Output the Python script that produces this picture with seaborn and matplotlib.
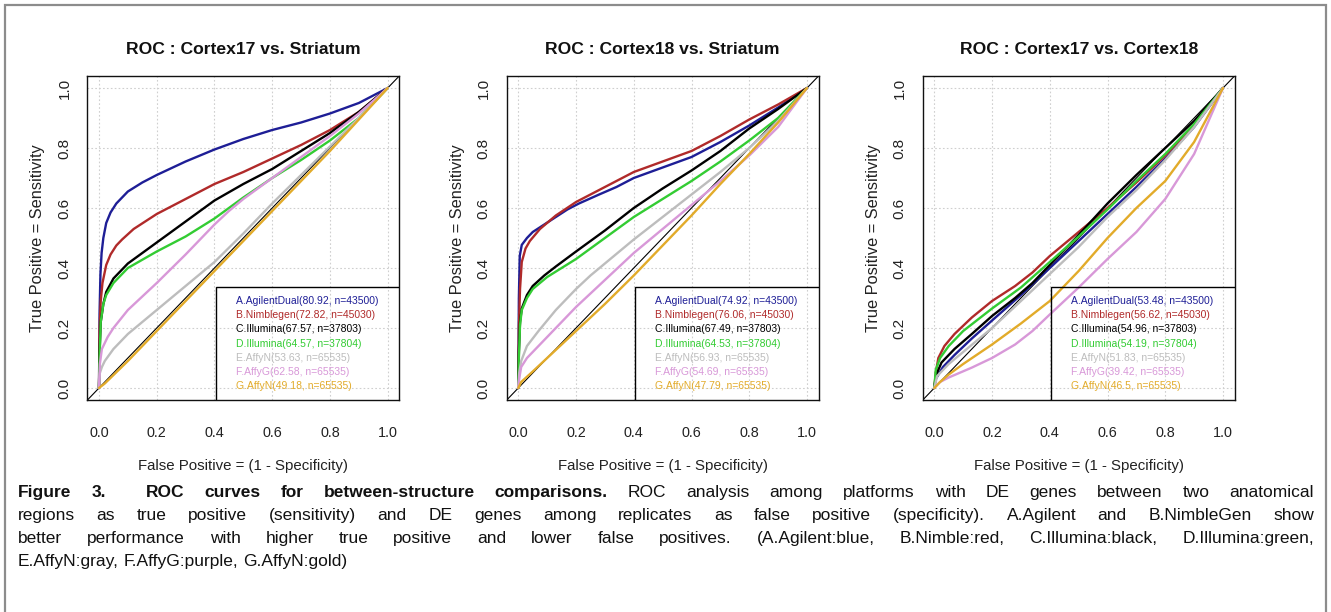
import numpy as np
import pandas as pd
import matplotlib
matplotlib.use("Agg")
import matplotlib.pyplot as plt
import seaborn as sns
from matplotlib.patches import Rectangle

# ---------------------------------------------------------------- data
platforms = ["A.AgilentDual", "B.Nimblegen", "C.Illumina", "D.Illumina",
             "E.AffyN", "F.AffyG", "G.AffyN"]
curve_colors = ["#1e1e96", "#b02a2a", "#000000", "#33cc33",
                "#bdbdbd", "#d898d8", "#e2ab2a"]
n_genes = [43500, 45030, 37803, 37804, 65535, 65535, 65535]

panel_titles = ["ROC : Cortex17 vs. Striatum",
                "ROC : Cortex18 vs. Striatum",
                "ROC : Cortex17 vs. Cortex18"]

auc_c17_str = ["80.92", "72.82", "67.57", "64.57", "53.63", "62.58", "49.18"]
auc_c18_str = ["74.92", "76.06", "67.49", "64.53", "56.93", "54.69", "47.79"]
auc_c17_c18 = ["53.48", "56.62", "54.96", "54.19", "51.83", "39.42", "46.5"]

# (false positive rate, true positive rate) per platform
roc_c17_str = {
    "A.AgilentDual": ([0, .002, .005, .009, .015, .025, .04, .06, .1, .15, .2, .3, .4, .5, .6, .7, .8, .9, 1],
                      [0, .25, .38, .45, .5, .55, .585, .615, .655, .685, .71, .755, .795, .83, .86, .885, .915, .95, 1]),
    "B.Nimblegen": ([0, .002, .006, .012, .025, .04, .06, .08, .12, .2, .3, .4, .5, .6, .7, .8, .9, 1],
                    [0, .2, .29, .35, .41, .445, .475, .495, .53, .58, .63, .68, .72, .765, .81, .86, .92, 1]),
    "C.Illumina": ([0, .002, .006, .015, .025, .05, .1, .15, .2, .3, .4, .5, .6, .7, .8, .9, 1],
                   [0, .12, .22, .28, .32, .365, .415, .45, .485, .555, .625, .68, .73, .79, .85, .92, 1]),
    "D.Illumina": ([0, .002, .006, .015, .025, .05, .1, .2, .3, .4, .5, .6, .7, .8, .9, 1],
                   [0, .1, .22, .28, .31, .35, .4, .455, .505, .565, .635, .7, .76, .825, .9, 1]),
    "E.AffyN": ([0, .003, .01, .02, .05, .1, .2, .3, .4, .5, .6, .7, .8, .9, 1],
                [0, .05, .07, .09, .13, .18, .26, .34, .42, .515, .615, .71, .805, .9, 1]),
    "F.AffyG": ([0, .003, .01, .03, .05, .1, .15, .2, .3, .4, .45, .5, .6, .7, .8, .9, 1],
                [0, .08, .13, .17, .2, .26, .305, .35, .445, .545, .59, .63, .7, .77, .84, .915, 1]),
    "G.AffyN": ([0, .02, .1, .2, .3, .4, .5, .6, .7, .8, .9, 1],
                [0, .015, .09, .19, .29, .39, .49, .59, .69, .79, .895, 1]),
}

roc_c18_str = {
    "A.AgilentDual": ([0, .002, .005, .012, .03, .05, .09, .13, .17, .21, .28, .34, .4, .5, .6, .7, .8, .9, 1],
                      [0, .3, .44, .477, .5, .52, .545, .57, .595, .615, .645, .67, .7, .735, .77, .82, .875, .935, 1]),
    "B.Nimblegen": ([0, .002, .006, .012, .025, .04, .075, .13, .2, .3, .4, .5, .6, .7, .8, .9, 1],
                    [0, .2, .33, .42, .465, .49, .53, .575, .62, .67, .72, .755, .79, .84, .895, .945, 1]),
    "C.Illumina": ([0, .002, .006, .012, .03, .05, .09, .13, .2, .3, .4, .5, .6, .7, .8, .9, 1],
                   [0, .12, .22, .265, .31, .34, .375, .405, .455, .525, .6, .665, .725, .79, .865, .93, 1]),
    "D.Illumina": ([0, .002, .006, .012, .03, .05, .1, .2, .3, .4, .5, .6, .7, .8, .9, 1],
                   [0, .1, .21, .26, .3, .33, .37, .43, .5, .57, .63, .69, .755, .825, .9, 1]),
    "E.AffyN": ([0, .003, .01, .03, .07, .13, .2, .25, .3, .4, .5, .6, .7, .8, .9, 1],
                [0, .05, .09, .14, .19, .26, .33, .375, .415, .495, .57, .645, .72, .8, .89, 1]),
    "F.AffyG": ([0, .003, .01, .03, .07, .13, .2, .3, .4, .5, .6, .7, .8, .9, 1],
                [0, .03, .07, .1, .14, .2, .27, .36, .45, .53, .61, .69, .775, .87, 1]),
    "G.AffyN": ([0, .01, .05, .1, .2, .3, .4, .5, .6, .7, .8, .9, 1],
                [0, .02, .055, .1, .19, .28, .375, .475, .575, .68, .78, .885, 1]),
}

roc_c17_c18 = {
    "A.AgilentDual": ([0, .005, .03, .07, .13, .2, .3, .4, .5, .6, .7, .8, .9, 1],
                      [0, .03, .07, .11, .165, .225, .31, .4, .49, .58, .67, .765, .87, 1]),
    "B.Nimblegen": ([0, .005, .014, .035, .07, .13, .2, .28, .34, .4, .5, .6, .7, .8, .9, 1],
                    [0, .05, .1, .14, .18, .235, .29, .34, .385, .44, .52, .6, .685, .775, .875, 1]),
    "C.Illumina": ([0, .005, .025, .07, .13, .2, .28, .34, .4, .5, .6, .7, .8, .9, 1],
                   [0, .04, .085, .13, .18, .24, .3, .35, .41, .51, .615, .71, .8, .89, 1]),
    "D.Illumina": ([0, .005, .02, .05, .1, .2, .3, .4, .5, .6, .7, .8, .9, 1],
                   [0, .06, .1, .14, .19, .265, .335, .42, .505, .595, .69, .78, .88, 1]),
    "E.AffyN": ([0, .01, .05, .1, .2, .3, .4, .5, .6, .7, .8, .9, 1],
                [0, .04, .08, .12, .2, .29, .38, .47, .57, .66, .76, .87, 1]),
    "F.AffyG": ([0, .02, .05, .13, .2, .28, .34, .4, .45, .5, .6, .7, .8, .9, 1],
                [0, .02, .035, .068, .1, .145, .19, .245, .29, .335, .43, .52, .63, .78, 1]),
    "G.AffyN": ([0, .02, .05, .1, .2, .3, .4, .5, .6, .7, .8, .9, 1],
                [0, .02, .045, .08, .145, .215, .29, .39, .5, .6, .69, .82, 1]),
}

tick_values = [0.0, 0.2, 0.4, 0.6, 0.8, 1.0]
tick_labels = ["0.0", "0.2", "0.4", "0.6", "0.8", "1.0"]

caption_lines = [
    [("Figure 3.  ROC curves for between-structure comparisons.", "bold"),
     ("ROC analysis among platforms with DE genes between two anatomical", "normal")],
    [("regions as true positive (sensitivity) and DE genes among replicates as false "
      "positive (specificity). A.Agilent and B.NimbleGen show", "normal")],
    [("better performance with higher true positive and lower false positives. "
      "(A.Agilent:blue, B.Nimble:red, C.Illumina:black, D.Illumina:green,", "normal")],
    [("E.AffyN:gray, F.AffyG:purple, G.AffyN:gold)", "normal")],
]

# ---------------------------------------------------------------- style
sns.set_theme(style="white")
plt.rcParams["font.family"] = ["Liberation Sans", "DejaVu Sans"]

W, H = 1331, 612
fig = plt.figure(figsize=(W / 100, H / 100), dpi=100, facecolor="white")

X0 = [99.0, 518.3, 934.3]   # pixel column of fpr = 0 in each panel
UX, Y0, UY = 288.7, 388.0, 300.0


def px_rect(left, top, right, bottom):
    return [left / W, 1 - bottom / H, (right - left) / W, (bottom - top) / H]


panels = [(roc_c17_str, auc_c17_str), (roc_c18_str, auc_c18_str), (roc_c17_c18, auc_c17_c18)]

for k, ((roc, aucs), title) in enumerate(zip(panels, panel_titles)):
    left = X0[k] - 0.04 * UX
    right = X0[k] + 1.04 * UX
    top = Y0 - 1.04 * UY
    bottom = Y0 + 0.04 * UY
    ax = fig.add_axes(px_rect(left, top, right, bottom))
    ax.set_facecolor("white")

    frames = []
    for name in platforms:
        fpr, tpr = roc[name]
        frames.append(pd.DataFrame({"platform": name, "fpr": fpr, "tpr": tpr}))
    df = pd.concat(frames, ignore_index=True)

    ax.plot([-0.04, 1.04], [-0.04, 1.04], color="black", lw=0.8, zorder=1.5)
    sns.lineplot(data=df, x="fpr", y="tpr", hue="platform", hue_order=platforms,
                 palette=curve_colors, estimator=None, sort=False, legend=False,
                 lw=1.7, ax=ax, zorder=2)

    ax.set_xlim(-0.04, 1.04)
    ax.set_ylim(-0.04, 1.04)
    ax.set_xticks(tick_values)
    ax.set_yticks(tick_values)
    ax.set_xticklabels(tick_labels)
    ax.set_yticklabels(tick_labels, rotation=90, va="center")
    ax.tick_params(axis="both", direction="out", length=5.5, width=0.8,
                   colors="#222222", labelsize=10.4)
    ax.tick_params(axis="y", labelsize=11, pad=6)
    ax.tick_params(axis="x", pad=13)
    ax.grid(True, color="#cfcfcf", linestyle=(0, (1.5, 2.0)), lw=0.8)
    ax.set_axisbelow(True)
    for sp in ax.spines.values():
        sp.set_color("#111111")
        sp.set_linewidth(1.0)
    ax.set_xlabel("")
    ax.set_ylabel("")

    # legend box in the lower right corner of the plot region
    ax.add_patch(Rectangle((0.405, -0.06), 0.7, 0.397, fill=False,
                           edgecolor="black", lw=1.0, zorder=3, clip_on=True))
    for i, (name, auc, n, col) in enumerate(zip(platforms, aucs, n_genes, curve_colors)):
        ax.text(0.475, 0.29 - 0.0473 * i, f"{name}({auc}, n={n})", color=col,
                fontsize=7.5, va="center", ha="left", zorder=4)

    cx = X0[k] + 0.5 * UX
    fig.text(cx / W, 1 - 49 / H, title, ha="center", va="center",
             fontsize=12.6, fontweight="bold", color="#111111")
    fig.text(cx / W, 1 - 466 / H, "False Positive = (1 - Specificity)",
             ha="center", va="center", fontsize=10.8, color="#222222")
    fig.text((X0[k] - 61) / W, 1 - 238 / H, "True Positive = Sensitivity",
             ha="center", va="center", rotation=90, fontsize=11.8, color="#222222")

# ---------------------------------------------------------------- caption
CAP_SIZE = 12.5
CAP_LEFT, CAP_RIGHT = 18.0, 1314.0
renderer = fig.canvas.get_renderer()


def tokenize(segments):
    out = []
    for text, weight in segments:
        for part in text.split(" "):
            if part == "":
                if out:
                    out[-1][2] += 1
                continue
            out.append([part, weight, 1])
    return out


probe_a = fig.text(0, 0, "x x", fontsize=CAP_SIZE)
probe_b = fig.text(0, 0, "xx", fontsize=CAP_SIZE)
space_w = (probe_a.get_window_extent(renderer).width
           - probe_b.get_window_extent(renderer).width)
probe_a.remove()
probe_b.remove()

baselines = [497, 520, 543, 566]
for li, (segments, base) in enumerate(zip(caption_lines, baselines)):
    toks = tokenize(segments)
    arts = [fig.text(0, 1 - base / H, w, fontsize=CAP_SIZE, fontweight=wt,
                     ha="left", va="baseline", color="#111111") for w, wt, _ in toks]
    widths = [a.get_window_extent(renderer).width for a in arts]
    gaps = [g for _, _, g in toks[:-1]]
    justify = li < len(caption_lines) - 1
    unit = (CAP_RIGHT - CAP_LEFT - sum(widths)) / sum(gaps) if justify else space_w
    x = CAP_LEFT
    for a, wdt, g in zip(arts, widths, gaps + [0]):
        a.set_x(x / W)
        x += wdt + g * unit

# outer frame
fig.add_artist(Rectangle((4.5 / W, -0.02), (1326 - 4.5) / W, 1.02 - 4.5 / H,
                         transform=fig.transFigure, fill=False,
                         edgecolor="#8c8c8c", lw=1.6))

fig.savefig("out.png", dpi=100, facecolor="white")
